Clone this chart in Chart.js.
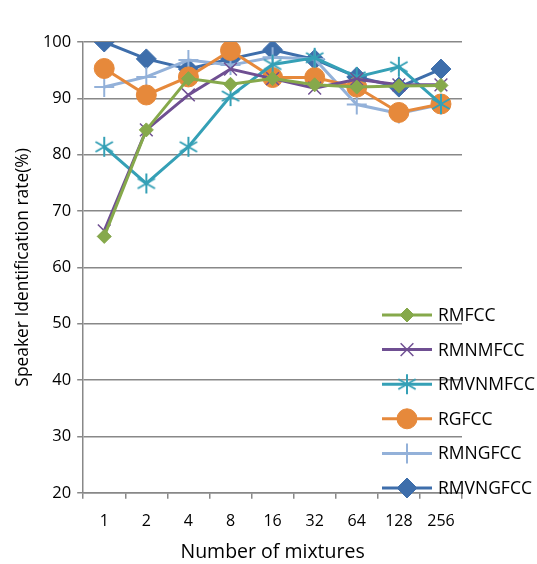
<!DOCTYPE html>
<html>
<head>
<meta charset="utf-8">
<script src="https://cdn.jsdelivr.net/npm/chart.js@4"></script>
<style>
  body { margin: 0; background: #fff; }
</style>
</head>
<body>
<canvas id="chartOne" width="537" height="564"></canvas>
<script>
// values
const mixtures = ['1', '2', '4', '8', '16', '32', '64', '128', '256'];
const yTicks = [20, 30, 40, 50, 60, 70, 80, 90, 100];

const rmfcc     = [65.5, 84.4, 93.5, 92.5, 93.5, 92.4, 92.0, 92.2, 92.3];
const rmnmfcc   = [66.5, 84.4, 90.6, 95.2, 93.5, 91.8, 93.4, 92.4, 92.4];
const rmvnmfcc  = [81.4, 74.9, 81.4, 90.4, 96.0, 97.2, 93.8, 95.6, 89.0];
const rgfcc     = [95.3, 90.6, 93.8, 98.5, 93.7, 93.7, 92.0, 87.5, 89.0];
const rmngfcc   = [92.0, 93.8, 96.8, 95.9, 97.3, 97.0, 88.9, 87.3, 88.9];
const rmvngfcc  = [100.0, 97.0, 95.2, 97.0, 98.6, 96.9, 93.8, 92.0, 95.2];

// 6-arm asterisk marker
function asterisk(color) {
    const c = document.createElement('canvas');
    c.width = 22; c.height = 22;
    const g = c.getContext('2d');
    g.strokeStyle = color;
    g.lineWidth = 2;
    for (let i = 0; i < 3; i++) {
        const a = Math.PI / 2 + i * Math.PI / 3;
        g.beginPath();
        g.moveTo(11 - Math.cos(a) * 10, 11 - Math.sin(a) * 10);
        g.lineTo(11 + Math.cos(a) * 10, 11 + Math.sin(a) * 10);
        g.stroke();
    }
    return c;
}

function series(label, data, color, style, radius, bw) {
    return {
        label: label,
        data: data,
        borderColor: color,
        backgroundColor: color,
        pointBackgroundColor: color,
        pointBorderColor: color,
        borderWidth: 3,
        pointStyle: style,
        pointRadius: radius,
        pointBorderWidth: bw,
        tension: 0
    };
}

const datasets = [
    series('RMFCC', rmfcc, '#86a94b', 'rectRot', 7, 1),
    series('RMNMFCC', rmnmfcc, '#6f4f92', 'crossRot', 9, 1.5),
    series('RMVNMFCC', rmvnmfcc, '#35a0b6', asterisk('#35a0b6'), 10, 1),
    series('RGFCC', rgfcc, '#e6893b', 'circle', 10, 1),
    series('RMNGFCC', rmngfcc, '#93b1d9', 'cross', 10, 2),
    series('RMVNGFCC', rmvngfcc, '#3e6eab', 'rectRot', 10, 1)
];

// legend drawn over the plot, lower right
const overlayLegend = {
    id: 'overlayLegend',
    afterDraw(chart) {
        const ctx = chart.ctx;
        ctx.save();
        chart.data.datasets.forEach(function(ds, i) {
            const y = 315 + i * 34.6;
            ctx.strokeStyle = ds.borderColor;
            ctx.fillStyle = ds.borderColor;
            ctx.lineWidth = 3;
            ctx.beginPath();
            ctx.moveTo(382, y);
            ctx.lineTo(432, y);
            ctx.stroke();
            ctx.lineWidth = ds.pointBorderWidth;
            Chart.helpers.drawPoint(ctx, {
                pointStyle: ds.pointStyle,
                radius: ds.pointRadius,
                rotation: 0,
                borderWidth: ds.pointBorderWidth
            }, 407, y);
            ctx.fillStyle = '#000';
            ctx.font = '17.5px "Open Sans", sans-serif';
            ctx.textBaseline = 'middle';
            ctx.fillText(ds.label, 438, y + 1);
        });
        ctx.restore();
    }
};

const ctx = document.getElementById('chartOne').getContext('2d');

new Chart(ctx, {
    type: 'line',
    data: {
        labels: mixtures,
        datasets: datasets
    },
    plugins: [overlayLegend],
    options: {
        responsive: false,
        animation: false,
        devicePixelRatio: 1,
        layout: { padding: { top: 42, right: 75, left: 13, bottom: 0 } },
        plugins: {
            legend: { display: false },
            tooltip: { enabled: false }
        },
        scales: {
            x: {
                offset: true,
                grid: { offset: true, drawOnChartArea: false, color: '#888', lineWidth: 1.5, tickLength: 6 },
                border: { color: '#888', width: 1.5 },
                ticks: { color: '#000', font: { family: '"Open Sans", sans-serif', size: 16 }, padding: 13.5, maxRotation: 0, autoSkip: false },
                title: { display: true, text: 'Number of mixtures', color: '#000', font: { family: '"Open Sans", sans-serif', size: 19.5 }, padding: { top: -4.4, bottom: 0 } }
            },
            y: {
                min: 20,
                max: 100,
                afterBuildTicks(axis) { axis.ticks = yTicks.map(v => ({ value: v })); },
                grid: { color: '#888', lineWidth: 1.5, tickLength: 6 },
                border: { color: '#888', width: 1.5 },
                ticks: { color: '#000', font: { family: '"Open Sans", sans-serif', size: 16.5 }, padding: 6 },
                title: { display: true, text: 'Speaker Identification rate(%)', color: '#000', font: { family: '"Open Sans", sans-serif', size: 17.4 }, padding: { top: 0, bottom: 3 } }
            }
        }
    }
});
</script>
</body>
</html>
